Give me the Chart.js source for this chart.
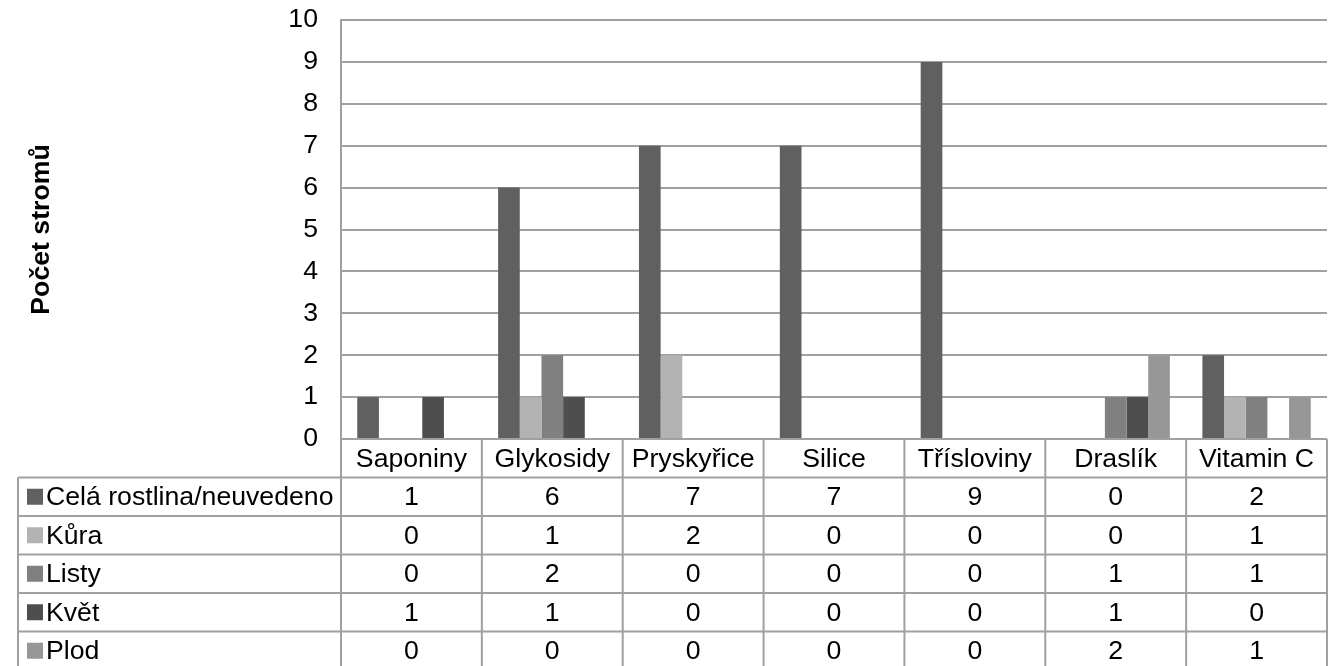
<!DOCTYPE html>
<html><head><meta charset="utf-8">
<script src="https://cdn.jsdelivr.net/npm/chart.js@4/dist/chart.umd.min.js"></script>
<style>html,body{margin:0;padding:0;background:#fff}#wrap{width:1336px;height:666px;position:relative;overflow:hidden}</style>
</head><body><div id="wrap"><canvas id="c" width="1336" height="666"></canvas></div>
<script>
const categories = ['Saponiny', 'Glykosidy', 'Pryskyřice', 'Silice', 'Třísloviny', 'Draslík', 'Vitamin C'];
const seriesNames = ['Celá rostlina/neuvedeno', 'Kůra', 'Listy', 'Květ', 'Plod'];
const celaRostlina = [1, 6, 7, 7, 9, 0, 2];
const kura = [0, 1, 2, 0, 0, 0, 1];
const listy = [0, 2, 0, 0, 0, 1, 1];
const kvet = [1, 1, 0, 0, 0, 1, 0];
const plod = [0, 0, 0, 0, 0, 2, 1];
const seriesColors = ['#606060', '#b3b3b3', '#808080', '#4e4e4e', '#979797'];
const yMin = 0, yMax = 10, yStep = 1;
const yTitle = 'Počet stromů';

const seriesValues = [celaRostlina, kura, listy, kvet, plod];
const FONT_FAMILY = '"Liberation Sans", Arial, sans-serif';
const FONT_SIZE = 26.67;
const LINE = '#a0a0a0';

const tablePlugin = {
  id: 'dataTable',
  afterDraw(chart) {
    const ctx = chart.ctx;
    const xs = chart.scales.x;
    const top = chart.chartArea.bottom;
    const rowH = 38.5;
    const labelLeft = 18;
    const n = categories.length;
    const colW = (xs.right - xs.left) / n;
    const nRows = seriesNames.length;
    const bottom = top + rowH * (nRows + 1);
    ctx.save();
    ctx.strokeStyle = LINE;
    ctx.lineWidth = 2;
    ctx.beginPath();
    for (let i = 0; i <= n; i++) {
      const px = xs.left + i * colW;
      ctx.moveTo(px, top); ctx.lineTo(px, bottom);
    }
    ctx.moveTo(labelLeft, top + rowH); ctx.lineTo(labelLeft, bottom);
    for (let r = 1; r <= nRows + 1; r++) {
      const py = top + r * rowH;
      ctx.moveTo(labelLeft, py); ctx.lineTo(xs.right, py);
    }
    ctx.stroke();
    ctx.fillStyle = '#000';
    ctx.font = FONT_SIZE + 'px ' + FONT_FAMILY;
    ctx.textBaseline = 'middle';
    ctx.textAlign = 'center';
    categories.forEach((c, i) => {
      ctx.fillText(c, xs.getPixelForValue(i), top + rowH / 2 + 1);
    });
    seriesNames.forEach((s, r) => {
      const cy = top + rowH * (r + 1) + rowH / 2 + 1;
      seriesValues[r].forEach((v, i) => {
        ctx.textAlign = 'center';
        ctx.fillText(String(v), xs.getPixelForValue(i), cy);
      });
      ctx.fillStyle = seriesColors[r];
      ctx.fillRect(27, cy - 9, 16, 16);
      ctx.fillStyle = '#000';
      ctx.textAlign = 'left';
      ctx.fillText(s, 46, cy);
    });
    ctx.restore();
  }
};

new Chart(document.getElementById('c'), {
  type: 'bar',
  data: {
    labels: categories,
    datasets: seriesNames.map((name, i) => ({
      label: name,
      data: seriesValues[i],
      backgroundColor: seriesColors[i],
      borderWidth: 0,
      categoryPercentage: 5 / 6.5,
      barPercentage: 1.0
    }))
  },
  options: {
    responsive: false,
    animation: false,
    devicePixelRatio: 1,
    layout: { padding: { left: 0, right: 9, top: 20, bottom: 227 } },
    plugins: { legend: { display: false }, tooltip: { enabled: false } },
    scales: {
      x: { display: false },
      y: {
        min: yMin, max: yMax,
        ticks: { stepSize: yStep, color: '#000', padding: 0, font: { family: FONT_FAMILY, size: FONT_SIZE } },
        grid: { color: LINE, lineWidth: 2, drawTicks: true, tickLength: 23, tickColor: 'rgba(0,0,0,0)' },
        border: { display: true, color: LINE, width: 2 },
        title: { display: true, text: yTitle, color: '#000', padding: { top: 26, bottom: 0 }, font: { family: FONT_FAMILY, size: FONT_SIZE, weight: 'bold' } },
        afterFit(scale) { scale.width = 341; }
      }
    }
  },
  plugins: [tablePlugin]
});
</script>
</body></html>
